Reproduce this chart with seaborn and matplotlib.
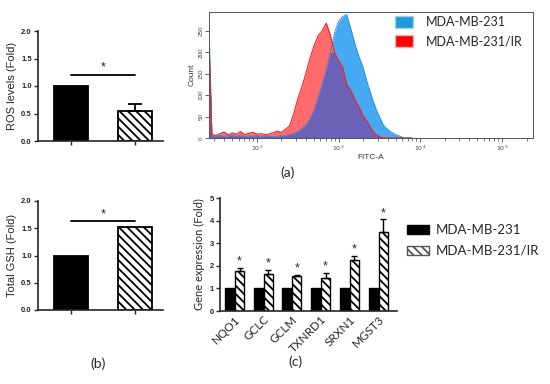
import numpy as np
import pandas as pd
import matplotlib
matplotlib.use("Agg")
import matplotlib.pyplot as plt
import seaborn as sns
from matplotlib.patches import Patch
from matplotlib.ticker import FixedLocator, LogLocator, NullFormatter

# ---------------- data ----------------
groups = ["MDA-MB-231", "MDA-MB-231/IR"]

# (a) flow cytometry histogram, log10(FITC-A) positions and counts
fitc_log = [1.42, 1.45, 1.50, 1.55, 1.60, 1.65, 1.70, 1.75, 1.80, 1.85,
            1.90, 1.95, 2.00, 2.05, 2.10, 2.15, 2.20, 2.25, 2.30, 2.35,
            2.40, 2.45, 2.50, 2.55, 2.60, 2.65, 2.70, 2.75, 2.80, 2.85,
            2.90, 2.95, 3.00, 3.05, 3.10, 3.15, 3.20, 3.25, 3.30, 3.35,
            3.40, 3.45, 3.50, 3.55, 3.60, 3.65, 3.70, 3.75, 3.80, 3.85, 3.90]
count_parental = [225, 5, 4, 6, 3, 5, 7, 4, 6, 3,
                  5, 4, 6, 3, 4, 5, 3, 4, 5, 6,
                  8, 10, 15, 22, 30, 45, 65, 95, 125, 160,
                  200, 245, 272, 284, 288, 255, 220, 190, 165, 130,
                  100, 72, 50, 30, 20, 13, 8, 4, 1, 0, 0]
count_ir = [190, 8, 6, 10, 14, 7, 12, 9, 15, 8,
            11, 13, 9, 10, 8, 9, 12, 16, 13, 20,
            28, 55, 90, 118, 150, 185, 215, 238, 250, 268,
            240, 200, 180, 165, 125, 110, 90, 72, 52, 38,
            22, 9, 3, 0, 0, 0, 0, 0, 0, 0, 0]

# (a) ROS levels
ros_mean = [1.0, 0.55]
ros_err = [0.0, 0.12]
ros_sig = 1.2

# (b) total GSH
gsh_mean = [1.0, 1.53]
gsh_err = [0.0, 0.0]
gsh_sig = 1.63

# (c) gene expression
genes = ["NQO1", "GCLC", "GCLM", "TXNRD1", "SRXN1", "MGST3"]
expr_parental = [1.0, 1.0, 1.0, 1.0, 1.0, 1.0]
expr_ir = [1.75, 1.62, 1.57, 1.48, 2.25, 3.5]
expr_ir_err = [0.15, 0.2, 0.03, 0.2, 0.2, 0.55]

# ---------------- style ----------------
sns.set_style("ticks")
plt.rcParams["font.family"] = ["Liberation Sans", "DejaVu Sans"]
plt.rcParams["hatch.linewidth"] = 1.3
HATCH = "\\\\\\\\"

fig = plt.figure(figsize=(5.5, 3.84), dpi=100)
W, H = 550, 384


def add_ax(left, top, right, bottom):
    return fig.add_axes([left / W, 1 - bottom / H, (right - left) / W, (bottom - top) / H])


def two_bar_panel(ax, values, errs, sig_y, ylabel):
    df = pd.DataFrame({"group": groups, "value": values})
    sns.barplot(data=df, x="group", y="value", hue="group", palette=["black", "white"],
                width=0.53, edgecolor="black", linewidth=1.3, legend=False, ax=ax)
    ax.patches[1].set_hatch(HATCH)
    for i, (v, e) in enumerate(zip(values, errs)):
        if e > 0:
            ax.errorbar(i, v, yerr=[[0], [e]], fmt="none", ecolor="black",
                        elinewidth=1.3, capsize=5, capthick=1.3)
    ax.plot([0, 1], [sig_y, sig_y], color="black", lw=1.3)
    ax.text(0.5, sig_y + 0.02, "*", ha="center", va="bottom", fontsize=9)
    ax.set_xlim(-0.51, 1.43)
    ax.set_ylim(0, 2.0)
    ax.set_yticks([0, 0.5, 1.0, 1.5, 2.0])
    ax.set_yticklabels(["0.0", "0.5", "1.0", "1.5", "2.0"], fontsize=5.5, fontweight="bold")
    ax.set_xticklabels([])
    ax.set_xlabel("")
    ax.set_ylabel(ylabel, fontsize=8, labelpad=3)
    ax.tick_params(length=3, width=1, pad=1.5)
    sns.despine(ax=ax)
    for s in ("left", "bottom"):
        ax.spines[s].set_linewidth(1.2)


# ---- ROS / GSH panels ----
ax_ros = add_ax(38, 31, 163, 141)
two_bar_panel(ax_ros, ros_mean, ros_err, ros_sig, "ROS levels (Fold)")
ax_gsh = add_ax(38, 201, 163, 310)
two_bar_panel(ax_gsh, gsh_mean, gsh_err, gsh_sig, "Total GSH (Fold)")

# ---- flow histogram ----
ax_h = add_ax(209, 12, 533, 138)
fitc = 10 ** np.array(fitc_log)
par = np.array(count_parental)
ir = np.array(count_ir)
ax_h.fill_between(fitc, 0, par, color="#45aaf2", lw=0)
ax_h.fill_between(fitc, 0, ir, color="#ff6b6b", lw=0)
ax_h.fill_between(fitc, 0, np.minimum(par, ir), color="#6b62b8", lw=0)
sns.lineplot(x=fitc, y=par, color="#1e88e8", lw=0.8, ls=(0, (1.5, 0.6)), ax=ax_h)
sns.lineplot(x=fitc, y=ir, color="#ff1a1a", lw=0.8, ax=ax_h)
ax_h.set_xscale("log")
ax_h.set_xlim(10 ** 1.415, 10 ** 5.38)
ax_h.set_ylim(0, 294)
ax_h.xaxis.set_major_locator(FixedLocator([1e2, 1e3, 1e4, 1e5]))
ax_h.set_xticklabels(["$10^2$", "$10^3$", "$10^4$", "$10^5$"], fontsize=4.5, color="#444")
ax_h.xaxis.set_minor_locator(LogLocator(base=10, subs=np.arange(2, 10)))
ax_h.xaxis.set_minor_formatter(NullFormatter())
ax_h.set_yticks([0, 50, 100, 150, 200, 250])
ax_h.set_yticklabels(["0", "50", "100", "150", "200", "250"], fontsize=4.5, color="#444",
                     rotation=90, va="center")
ax_h.tick_params(axis="both", which="major", length=3, width=0.6, pad=1, color="#444")
ax_h.tick_params(axis="x", which="minor", length=2, width=0.5, color="#444")
ax_h.set_xlabel("FITC-A", fontsize=6, color="#333", labelpad=1)
ax_h.set_ylabel("Count", fontsize=6, color="#333", labelpad=2)
for s in ax_h.spines.values():
    s.set_linewidth(0.7)
    s.set_color("#555")
ax_h.legend(handles=[Patch(facecolor="#1e9bd7", edgecolor="#9ecfe9", label=groups[0]),
                     Patch(facecolor="#ff0000", edgecolor="#ffb0b0", label=groups[1])],
            loc="upper left", bbox_to_anchor=(0.575, 0.965), frameon=False,
            fontsize=9, handlelength=1.45, handleheight=1.05, labelspacing=0.55,
            handletextpad=1.0, borderpad=0, borderaxespad=0,
            prop={"family": ["Lato", "DejaVu Sans"], "size": 9})

# ---- gene expression panel ----
ax_g = add_ax(220, 198, 397, 311)
gdf = pd.DataFrame({
    "gene": genes * 2,
    "group": [groups[0]] * len(genes) + [groups[1]] * len(genes),
    "value": expr_parental + expr_ir,
})
sns.barplot(data=gdf, x="gene", y="value", hue="group", hue_order=groups,
            palette=["black", "white"], width=0.7, gap=0.1, edgecolor="black",
            linewidth=1.0, legend=False, ax=ax_g)
ir_bars = ax_g.patches[len(genes):2 * len(genes)]
for p, v, e in zip(ir_bars, expr_ir, expr_ir_err):
    p.set_hatch(HATCH)
    cx = p.get_x() + p.get_width() / 2
    ax_g.errorbar(cx, v, yerr=[[0], [e]], fmt="none", ecolor="black",
                  elinewidth=1.0, capsize=2.5, capthick=1.0)
    ax_g.text(cx, v + e + 0.02, "*", ha="center", va="bottom", fontsize=9)
ax_g.set_xlim(-0.505, 5.66)
ax_g.set_ylim(0, 5)
ax_g.set_yticks([0, 1, 2, 3, 4, 5])
ax_g.set_yticklabels(["0", "1", "2", "3", "4", "5"], fontsize=5.5, fontweight="bold")
ax_g.set_xticks(range(len(genes)))
ax_g.set_xticklabels(genes, rotation=45, ha="right", rotation_mode="anchor",
                     fontsize=8.5, family=["Lato", "DejaVu Sans"])
ax_g.set_xlabel("")
ax_g.set_ylabel("Gene expression (Fold)", fontsize=8, labelpad=3,
                family=["Lato", "DejaVu Sans"])
ax_g.tick_params(axis="y", length=3, width=1, pad=1.5)
ax_g.tick_params(axis="x", length=0, pad=2)
sns.despine(ax=ax_g)
for s in ("left", "bottom"):
    ax_g.spines[s].set_linewidth(1.2)

fig.legend(handles=[Patch(facecolor="black", edgecolor="black", label=groups[0]),
                    Patch(facecolor="white", edgecolor="#555", hatch=HATCH, label=groups[1])],
           loc="upper left", bbox_to_anchor=(407 / W, 1 - 224 / H), frameon=False,
           handlelength=1.64, handleheight=0.7, labelspacing=0.67, handletextpad=0.55,
           borderpad=0, borderaxespad=0,
           prop={"family": ["Lato", "DejaVu Sans"], "size": 9.5})

# panel labels
for txt, x, y in [("(a)", 288, 173), ("(b)", 98, 364), ("(c)", 295, 362)]:
    fig.text(x / W, 1 - y / H, txt, ha="center", va="center", fontsize=10,
             family=["Lato", "DejaVu Sans"])

fig.savefig("out.png", dpi=100)
